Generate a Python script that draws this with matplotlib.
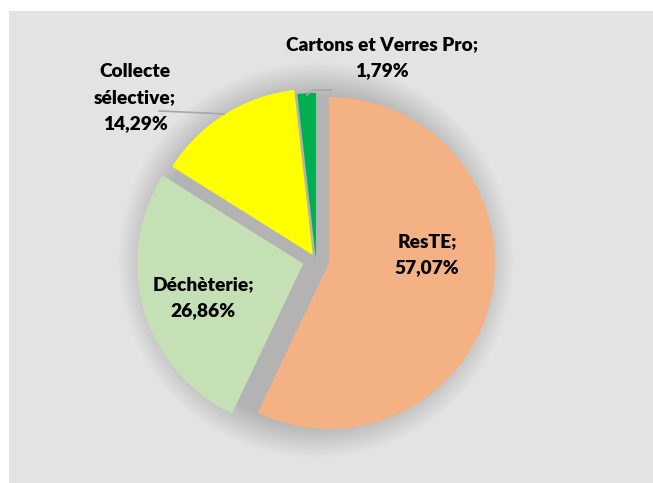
import numpy as np
import matplotlib
matplotlib.use("Agg")
from matplotlib import pyplot as plt
from matplotlib.patches import Rectangle, Circle

# data
categories = ["ResTE", "Déchèterie", "Collecte\nsélective", "Cartons et Verres Pro"]
shares = [57.07, 26.86, 14.29, 1.79]
colors = ["#F4B183", "#C5E0B4", "#FFFF00", "#00B050"]
explode = [0.08, 0.08, 0.036, 0.006]

plt.rcParams['font.family'] = ['Lato', 'DejaVu Sans']

fig = plt.figure(figsize=(6.53, 4.83), dpi=100)
fig.patch.set_facecolor("white")
# grey chart area (white strip on top and left)
fig.add_artist(Rectangle((9 / 653, -0.01), 1.1, 1.01 - 11 / 483, transform=fig.transFigure,
                         facecolor="#E3E3E3", edgecolor="none", zorder=0))

ax = fig.add_axes([0, 0, 1, 1])
ax.patch.set_visible(False)

# soft shadow under the pie
for r in np.linspace(1.19, 0.99, 16):
    ax.add_patch(Circle((0, 0), r, facecolor="black", edgecolor="none", alpha=0.011, zorder=1))

wedges, _ = ax.pie(shares, colors=colors, explode=explode, startangle=90,
                   counterclock=False, wedgeprops=dict(linewidth=0))
for w in wedges:
    w.set_zorder(3)

# labels
lab_style = dict(ha="center", va="center", fontsize=13.8, fontweight="heavy",
                 color="black", linespacing=1.65, zorder=5)
label_pos = [(0.669, 0.030), (-0.681, -0.226), (-1.090, 0.978), (0.398, 1.218)]
for name, val, (lx, ly) in zip(categories, shares, label_pos):
    txt = "%s;\n%s%%" % (name, ("%.2f" % val).replace(".", ","))
    ax.text(lx, ly, txt, **lab_style)

# leader lines
ax.plot([-0.946, -0.554], [0.898, 0.880], color="#A6A6A6", lw=1.2, zorder=4)
ax.plot([-0.054, -0.018, 0.096], [0.994, 1.024, 1.024], color="#A6A6A6", lw=1.2, zorder=4)

ax.set_xlim(-316 / 166, (653 - 316) / 166)
ax.set_ylim(-223 / 166, (483 - 223) / 166)
ax.set_aspect("auto")
ax.axis("off")

fig.savefig("out.png", dpi=100)
